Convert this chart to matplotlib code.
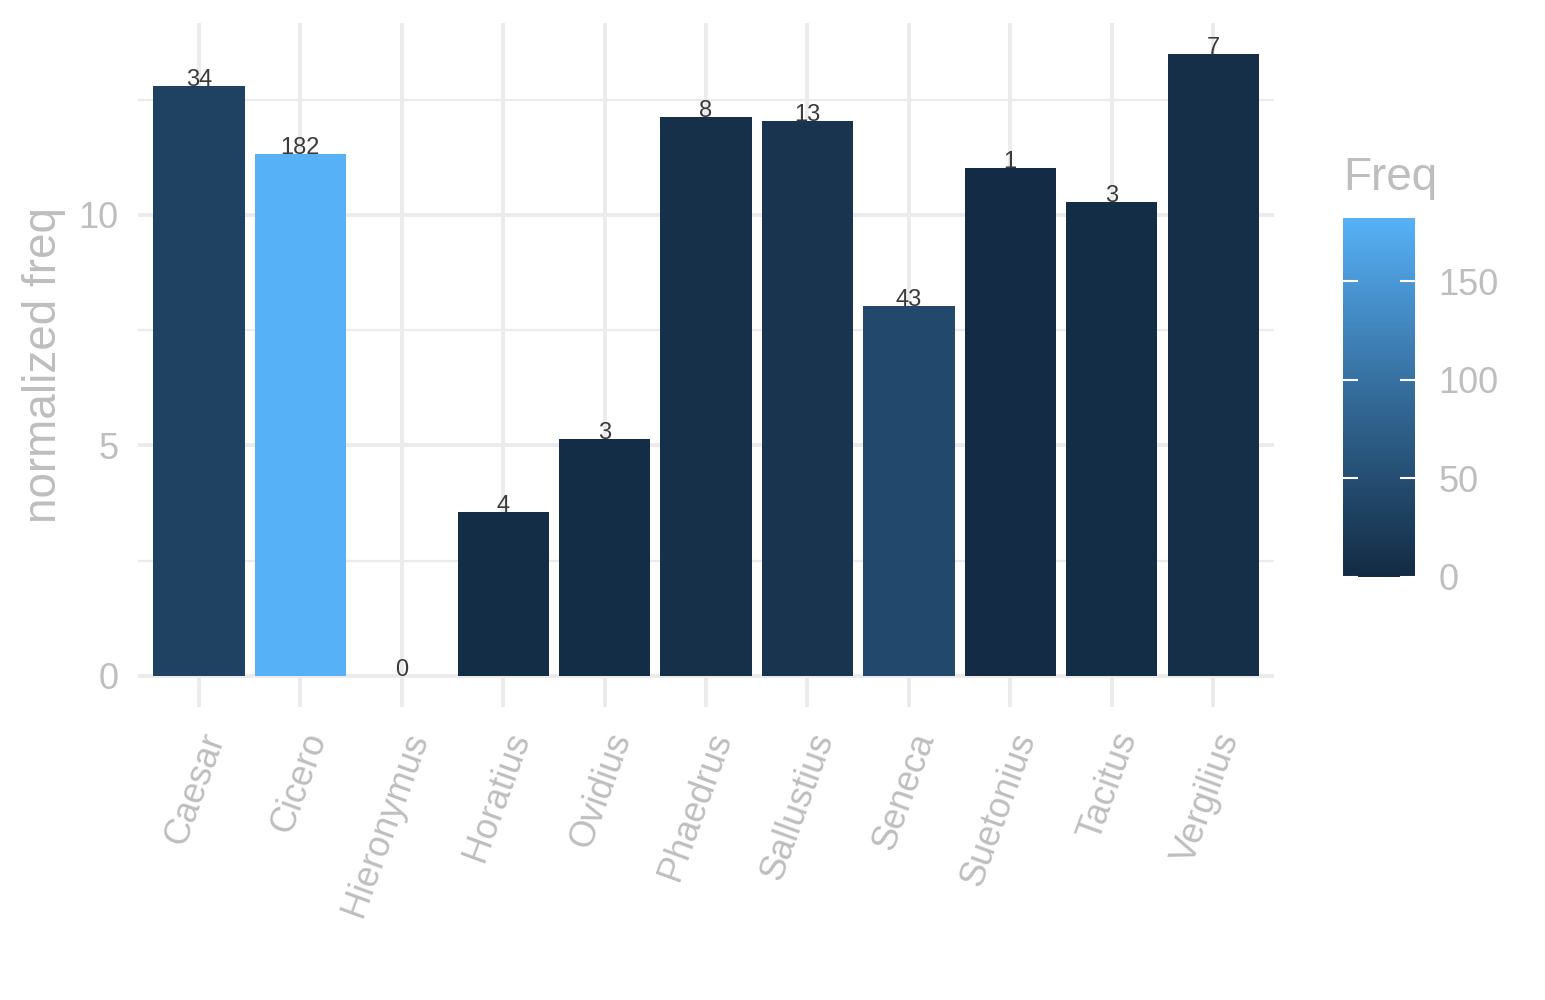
import matplotlib
matplotlib.use("Agg")
import matplotlib.pyplot as plt
import numpy as np
from matplotlib.colors import LinearSegmentedColormap, Normalize
from matplotlib.cm import ScalarMappable

authors = ["Caesar", "Cicero", "Hieronymus", "Horatius", "Ovidius", "Phaedrus",
           "Sallustius", "Seneca", "Suetonius", "Tacitus", "Vergilius"]
norm_freq = [12.8, 11.32, 0.0, 3.56, 5.14, 12.13, 12.04, 8.03, 11.02, 10.28, 13.49]
freq = [34, 182, 0, 4, 3, 8, 13, 43, 1, 3, 7]

plt.rcParams["font.family"] = ["Liberation Sans", "DejaVu Sans"]
grey_txt = "#BEBEBE"
grid_col = "#EBEBEB"

# ggplot-like default continuous fill (roughly Lab interpolation)
cmap = LinearSegmentedColormap.from_list(
    "gg", [(0.0, "#132B43"), (0.5, "#336A98"), (1.0, "#56B1F7")])
cnorm = Normalize(vmin=0, vmax=max(freq))

fig = plt.figure(figsize=(15.45, 10), dpi=100)
ax = fig.add_axes([138 / 1545, 0.293, (1274 - 138) / 1545, 0.977 - 0.293])

x = np.arange(1, len(authors) + 1)
ax.bar(x, norm_freq, width=0.9, color=cmap(cnorm(freq)), zorder=3)
for xi, yi, f in zip(x, norm_freq, freq):
    ax.text(xi, yi, str(f), ha="center", va="baseline", fontsize=17,
            color="#3A3A3A", zorder=4)

ymax = max(norm_freq)
ax.set_xlim(0.4, len(authors) + 0.6)
ax.set_ylim(-0.05 * ymax, ymax * 1.05)

ax.set_yticks([0, 5, 10])
ax.set_yticks([2.5, 7.5, 12.5], minor=True)
ax.set_xticks(x)
ax.set_xticklabels(authors, rotation=70, ha="right", va="top",
                   rotation_mode="anchor")
ax.grid(True, which="major", color=grid_col, linewidth=2.8, zorder=0)
ax.grid(True, which="minor", axis="y", color=grid_col, linewidth=1.6, zorder=0)
ax.tick_params(which="both", length=0, labelsize=26, labelcolor=grey_txt)
ax.tick_params(axis="y", pad=14)
ax.tick_params(axis="x", pad=15)
for s in ax.spines.values():
    s.set_visible(False)
ax.set_ylabel("normalized freq", fontsize=33, color=grey_txt, labelpad=9)

# colour bar legend
cax = fig.add_axes([1343 / 1545, 1 - 577 / 1000, 72 / 1545, 359 / 1000])
sm = ScalarMappable(norm=cnorm, cmap=cmap)
cb = fig.colorbar(sm, cax=cax, ticks=[0, 50, 100, 150])
cb.outline.set_visible(False)
cax.tick_params(axis="y", direction="in", length=11, width=1.5, color="white",
                left=True, right=True, labelleft=False, labelright=True,
                labelsize=26, labelcolor=grey_txt, pad=17)
fig.text(1343 / 1545, 1 - 190 / 1000, "Freq", fontsize=33, color=grey_txt,
         ha="left", va="baseline")

fig.savefig("out.png", dpi=100)
